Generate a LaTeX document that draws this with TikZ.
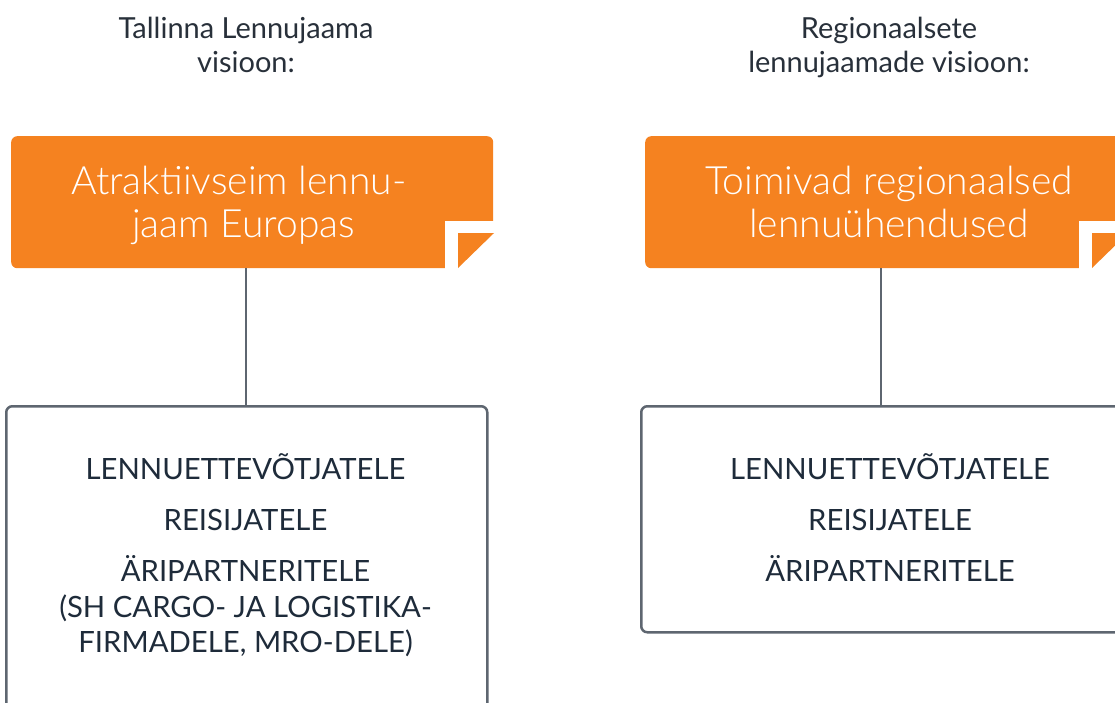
\documentclass[tikz,border=0pt]{standalone}
\usepackage{fontspec}
\setmainfont{Lato}
\newfontfamily\lightfont{Lato Light}
\definecolor{aorange}{RGB}{245,130,32}
\definecolor{agray}{RGB}{94,102,112}
\definecolor{atext}{RGB}{30,43,58}
\definecolor{ahead}{RGB}{40,48,58}
\begin{document}
\begin{tikzpicture}[x=1pt,y=-1pt,
  obox/.style={fill=aorange, rounded corners=6pt, anchor=north west, inner sep=0pt, minimum width=482pt, minimum height=132pt},
  wbox/.style={draw=agray, line width=2.5pt, rounded corners=6pt, anchor=north west, inner sep=0pt},
  conn/.style={draw=agray, line width=2.5pt},
  headtxt/.style={anchor=base, text=ahead, font=\fontsize{29pt}{34pt}\selectfont, inner sep=0pt},
  otxt/.style={anchor=base, text=white, font=\lightfont\fontsize{39pt}{44pt}\selectfont, inner sep=0pt},
  btxt/.style={anchor=base, text=atext, font=\fontsize{29.3pt}{34pt}\selectfont, inner sep=0pt}]
\useasboundingbox (0,0) rectangle (1115,702);
\clip (0,0) rectangle (1115,702);
% headers
\node[headtxt] (h1a) at (246,38) {Tallinna Lennujaama};
\node[headtxt] (h1b) at (246,72) {visioon:};
\node[headtxt] (h2a) at (889,38) {Regionaalsete};
\node[headtxt] (h2b) at (889,72) {lennujaamade visioon:};
% orange boxes
\node[obox] (o1) at (11,136) {};
\fill[white] (445,221) rectangle (505,280);
\fill[aorange] (458,233) -- (494,233) -- (458,268) -- cycle;
\node[obox] (o2) at (645,136) {};
\fill[white] (1079,221) rectangle (1139,280);
\fill[aorange] (1092,233) -- (1128,233) -- (1092,268) -- cycle;
\node[otxt] (o1a) at (239,194) {Atraktiivseim lennu-};
\node[otxt] (o1b) at (243.5,237) {jaam Europas};
\node[otxt] (o2a) at (889,194) {Toimivad regionaalsed};
\node[otxt] (o2b) at (889,237) {lennuühendused};
% lower boxes
\node[wbox, minimum width=481pt, minimum height=340pt] (b1) at (5,405) {};
\node[wbox, minimum width=500pt, minimum height=226pt] (b2) at (640,405) {};
% connectors
\draw[conn] (b1.north -| 246,0) -- (o1.south -| 246,0);
\draw[conn] (b2.north -| 881,0) -- (o2.south -| 881,0);
% lower texts
\node[btxt] (t1a) at (245.5,479) {LENNUETTEVÕTJATELE};
\node[btxt] (t1b) at (245.5,530) {REISIJATELE};
\node[btxt] (t1c) at (245.5,581) {ÄRIPARTNERITELE};
\node[btxt] (t1d) at (245.5,617) {(SH CARGO- JA LOGISTIKA-};
\node[btxt] (t1e) at (245.5,652) {FIRMADELE, MRO-DELE)};
\node[btxt] (t2a) at (890,479) {LENNUETTEVÕTJATELE};
\node[btxt] (t2b) at (890,530) {REISIJATELE};
\node[btxt] (t2c) at (890,581) {ÄRIPARTNERITELE};
\end{tikzpicture}
\end{document}
